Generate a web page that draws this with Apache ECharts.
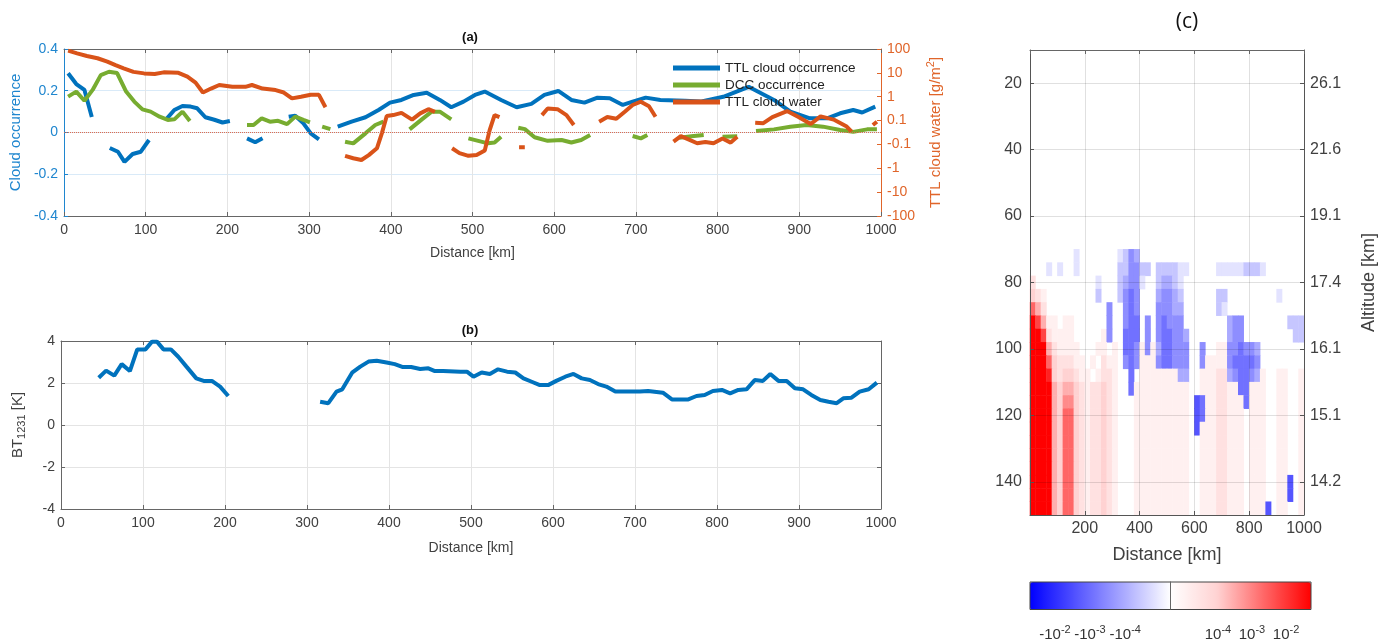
<!DOCTYPE html>
<html>
<head>
<meta charset="utf-8">
<script src="https://cdn.jsdelivr.net/npm/echarts@6/dist/echarts.min.js"></script>
<style>
  html, body { margin: 0; background: #fff; }
  #chart { width: 1379px; height: 642px; }
</style>
</head>
<body>
<div id="chart"></div>
<script>
// ---------- panel (a) : gaps in a trace are null ----------
const ttlOccKm = [5, 15, 25, 34, null, 56, 66, 74, 84, 94, 104, null,
  125, 135, 145, 155, 163, 173, 184, 194, 203, null, 224, 234, 243, null,
  275, 283, 293, 302, 312, null,
  335, 352, 369, 385, 399, 413, 428, 444, 460, 474, 489, 503, 515, 535, 554, 572, 588, 605,
  621, 637, 653, 668, 684, 696, 712, 730, 760, 779, 807, 838, 869, 889, 913, 934, 950, 966, 977, 993]
const ttlOcc = [0.284, 0.232, 0.204, 0.074, null, -0.074, -0.092, -0.141, -0.103, -0.092, -0.036, null,
  0.063, 0.108, 0.127, 0.124, 0.116, 0.073, 0.061, 0.048, 0.055, null, -0.028, -0.047, -0.028, null,
  0.075, 0.08, 0.044, -0.004, -0.033, null,
  0.028, 0.052, 0.073, 0.108, 0.143, 0.156, 0.18, 0.19, 0.156, 0.121, 0.148, 0.18, 0.196, 0.156, 0.121, 0.137, 0.18, 0.199,
  0.156, 0.143, 0.167, 0.164, 0.132, 0.148, 0.167, 0.156, 0.152, 0.148, 0.171, 0.219, 0.156, 0.1, 0.068, 0.068, 0.092, 0.108, 0.096, 0.124]

const dccOccKm = [5, 15, 25, 35, 45, 55, 65, 76, 86, 96, 106, 117, 127, 135, 145, 154, null,
  224, 232, 242, 252, 262, 273, 283, 293, 301, null, 316, 326, null,
  344, 354, 369, 381, 391, null, 423, 438, 450, 460, 474, null,
  495, 507, 519, 527, 535, null, 556, 564, 576, 592, 609, 621, 633, 644, null,
  696, 706, 714, null, 753, 768, 783, null, 806, 824, null,
  847, 869, 889, 909, 929, 950, 966, 983, 995]
const dccOcc = [0.172, 0.196, 0.152, 0.204, 0.275, 0.291, 0.285, 0.196, 0.148, 0.111, 0.1, 0.076, 0.06, 0.063, 0.1, 0.055, null,
  0.036, 0.036, 0.068, 0.052, 0.056, 0.04, 0.076, 0.06, 0.048, null, 0.028, 0.016, null,
  -0.044, -0.052, -0.004, 0.036, 0.052, null, 0.015, 0.063, 0.1, 0.1, 0.063, null,
  -0.028, -0.04, -0.052, -0.048, -0.02, null, 0.023, 0.016, -0.023, -0.04, -0.036, -0.048, -0.036, -0.012, null,
  -0.017, -0.028, -0.012, null, -0.025, -0.018, -0.012, null, -0.02, -0.018, null,
  0.007, 0.015, 0.028, 0.036, 0.028, 0.012, 0.003, 0.015, 0.015]

// TTL cloud water in g/m^2 (drawn on a symmetric log axis)
const ttlWaterKm = [5, 16, 28, 41, 53, 63, 73, 85, 98, 111, 122, 140, 151, 161, 170, 180, 190, 206, 222, 230,
  243, 259, 269, 279, 290, 302, 312, 320, null,
  344, 354, 364, 373, 383, 389, 395, 403, 413, 426, 436, 446, 454, null,
  475, 484, 495, 505, 515, 521, 527, 533, null, 557, 564, null,
  585, 592, 604, 615, 624, null, 655, 665, 676, 686, 696, 706, 716, 724, null,
  746, 755, 765, 775, 785, 795, 806, 816, 824, null,
  846, 856, 867, 885, 899, 914, 926, 942, 958, 964, null, 990, 995]
const ttlWater = [85, 66, 51, 41, 29.5, 21, 15.5, 11, 9.5, 9, 10.5, 10, 6.9, 3.9, 1.5, 2.2, 3.1, 2.6, 2.6, 3.1,
  2.2, 1.9, 1.5, 0.85, 1.0, 1.2, 1.2, 0.36, null,
  -0.3, -0.38, -0.45, -0.28, -0.145, -0.007, 0.155, 0.17, 0.21, 0.11, 0.2, 0.3, 0.23, null,
  -0.145, -0.23, -0.3, -0.28, -0.18, 0.02, 0.17, 0.14, null, -0.13, -0.13, null,
  0.17, 0.32, 0.3, 0.17, 0.063, null, 0.09, 0.14, 0.12, 0.23, 0.45, 0.62, 0.4, 0.145, null,
  -0.077, -0.03, -0.06, -0.09, -0.08, -0.09, -0.05, -0.085, -0.035, null,
  0.082, 0.078, 0.14, 0.25, 0.14, 0.071, 0.15, 0.11, 0.05, 0.007, null, 0.063, 0.09]

const waterTicks = [-3.5, -2.5, -1.5, -0.5, 0.5, 1.5, 2.5, 3.5]
const waterTickLabels = ['-100', '-10', '-1', '-0.1', '0.1', '1', '10', '100']

// ---------- panel (b) ----------
const btKm = [46, 55, 65, 74, 84, 93, 103, 111, 117, 125, 134, 143, 153, 165, 174, 184, 194, 204, null,
  316, 326, 336, 343, 355, 365, 375, 385, 397, 407, 417, 427, 438, 448, 456, 466, 487, 495, 503, 513, 523, 533,
  544, 554, 564, 574, 584, 594, 604, 615, 625, 635, 645, 655, 665, 676, 686, 706, 716, 734, 745, 755, 765,
  775, 785, 795, 806, 816, 826, 836, 846, 856, 865, 875, 885, 895, 905, 915, 926, 936, 946, 954, 964, 974, 985, 995]
const bt1231 = [2.25, 2.59, 2.35, 2.9, 2.57, 3.6, 3.6, 3.97, 3.97, 3.6, 3.6, 3.25, 2.78, 2.22, 2.1, 2.1, 1.83, 1.38, null,
  1.11, 1.04, 1.59, 1.7, 2.49, 2.78, 3.02, 3.06, 2.98, 2.9, 2.76, 2.76, 2.67, 2.7, 2.57, 2.57, 2.54, 2.54, 2.3, 2.5, 2.43, 2.65,
  2.54, 2.5, 2.22, 2.06, 1.9, 1.9, 2.1, 2.3, 2.43, 2.22, 2.14, 1.95, 1.83, 1.59, 1.59, 1.59, 1.62, 1.54, 1.22, 1.22, 1.22,
  1.38, 1.43, 1.62, 1.67, 1.51, 1.67, 1.7, 2.14, 2.1, 2.43, 2.1, 2.1, 1.75, 1.7, 1.43, 1.19, 1.11, 1.04, 1.27, 1.3, 1.59, 1.7, 2.02]

// ---------- panel (c) : 20 km columns x 4-level rows ----------
// '.' = 0, '1'..'9' = positive level, 'a'..'i' = negative level 1..9
const heatColKm = [10, 30, 50, 70, 90, 110, 130, 150, 170, 190, 210, 230, 250, 270, 290, 310, 330, 350, 370, 390,
  410, 430, 450, 470, 490, 510, 530, 550, 570, 590, 610, 630, 650, 670, 690, 710, 730, 750, 770, 790,
  810, 830, 850, 870, 890, 910, 930, 950, 970, 990]
const heatRowLevel = [12, 16, 20, 24, 28, 32, 36, 40, 44, 48, 52, 56, 60, 64, 68, 72, 76, 80, 84, 88,
  92, 96, 100, 104, 108, 112, 116, 120, 124, 128, 132, 136, 140, 144, 148]
const heatRows = [
  '.......... .......... .......... .......... ..........',
  '.......... .......... .......... .......... ..........',
  '.......... .......... .......... .......... ..........',
  '.......... .......... .......... .......... ..........',
  '.......... .......... .......... .......... ..........',
  '.......... .......... .......... .......... ..........',
  '.......... .......... .......... .......... ..........',
  '.......... .......... .......... .......... ..........',
  '.......... .......... .......... .......... ..........',
  '.......... .......... .......... .......... ..........',
  '.......... .......... .......... .......... ..........',
  '.......... .......... .......... .......... ..........',
  '.......... .......... .......... .......... ..........',
  '.......... .......... .......... .......... ..........',
  '.......... .......... .......... .......... ..........',
  '........a. ......abdc .......... .......... ..........',
  '...a.a..a. ......bbdd bb.bbbbaa. ....aaaaab bba.......',
  '2......... ..a...bcdd a..bccba.. .......... ..........',
  '321....... ..b...bded ...cddcb.. ....bb.... .....a....',
  '642....... ....d..ded ...dddcc.. ....ba.... ..........',
  '97411.11.. ....d..dee .d.deddd.. ......cdd. .......bbb',
  '99721111.. ...1d..eee .d.deeddc. ......cdd. ........bb',
  '999421111. ..11.1.eed 1d1ceeddd. .d..11dded dc........',
  '9996322211 .1.211.ded 111deeddd. .d1111deee ed........',
  '9998323321 1.1221..e. 1111111cc. .11122cdee dc1..11..1',
  '9999434432 122321..e1 111111111. .1112211ee 111..11..1',
  '9999435532 122321...1 111111111. fe1122111e 111..11..1',
  '9999436632 122321...1 111111111. fe1122111. 111..11..1',
  '9999436632 122321...1 111111111. f11122111. 111..11..1',
  '9999436632 122321...1 111111111. .11122111. 111..11..1',
  '9999436632 122321...1 111111111. .11122111. 111..11..1',
  '9999436632 122321...1 111111111. .11122111. 111..11..1',
  '9999436632 122321...1 111111111. .11122111. 111..11f.1',
  '9999436632 122321...1 111111111. .11122111. 111..11f.1',
  '9999436632 122321...1 111111111. .11122111. 111f.11..1'
]
const rowTicks = [20, 40, 60, 80, 100, 120, 140]
const altitudeTicks = ['26.1', '21.6', '19.1', '17.4', '16.1', '15.1', '14.2']
const cbarTicks = [-7.4, -5.16, -2.9, 3.04, 5.22, 7.4]
const cbarLabels = [['-10', '-2'], ['-10', '-3'], ['-10', '-4'], ['10', '-4'], ['10', '-3'], ['10', '-2']]

// ---------- helpers ----------
const toPairs = (xs, ys) => xs.map((x, i) => [x, ys[i]])
const symlog = v => {
  if (v === null) return null
  const a = Math.abs(v)
  return a < 0.1 ? v * 5 : Math.sign(v) * (Math.log10(a) + 1.5)
}
const heatData = []
heatRows.forEach((row, j) => {
  row.replace(/ /g, '').split('').forEach((ch, i) => {
    if (ch === '.') return
    const v = ch >= '1' && ch <= '9' ? +ch : -(ch.charCodeAt(0) - 96)
    heatData.push([i, j, v])
  })
})

const BLUE = '#0072BD'
const BLUE_TXT = '#1f86cf'
const ORANGE = '#D95319'
const ORANGE_TXT = '#e0652a'
const GREEN = '#77AC30'
const GRAY = '#404040'
const FONT = 'Liberation Sans'

const chart = echarts.init(document.getElementById('chart'))

const boxAxis = (grid, pos, extra) => Object.assign({
  gridIndex: grid, position: pos, type: 'value',
  axisLine: { onZero: false, lineStyle: { color: '#666' } },
  axisTick: { inside: true, length: 4, lineStyle: { color: '#666' } },
  axisLabel: { show: false }, splitLine: { show: false }
}, extra)

const option = {
  animation: false,
  textStyle: { fontFamily: FONT },
  grid: [
    { left: 61, top: 49, width: 820, height: 167 },
    { left: 61, top: 341, width: 820, height: 168 },
    { left: 1030, top: 50, width: 281, height: 465 },
    { left: 1030, top: 582, width: 281, height: 28, show: true, z: 10,
      borderColor: '#444', borderWidth: 1, backgroundColor: 'transparent' }
  ],
  legend: {
    data: ['TTL cloud occurrence', 'DCC occurrence', 'TTL cloud water'],
    orient: 'vertical', left: 673, top: 61, padding: 0,
    icon: 'rect', itemWidth: 47, itemHeight: 5, itemGap: 3,
    textStyle: { fontSize: 13.5, lineHeight: 14, color: '#222', fontFamily: FONT }
  },
  visualMap: {
    type: 'continuous', seriesIndex: 4, min: -9, max: 9,
    calculable: false, orient: 'horizontal', left: 1030, top: 582,
    itemWidth: 28, itemHeight: 281, padding: 0, text: null, hoverLink: false,
    inRange: { color: ['#0000ff', '#5555ff', '#aaaaff', '#ffffff', '#ffd2d2', '#ff6666', '#ff0000'] }
  },
  graphic: [
    { type: 'text', x: 470, y: 37, style: { text: '(a)', font: 'bold 13px ' + FONT, fill: '#111', textAlign: 'center', textVerticalAlign: 'middle', align: 'center', verticalAlign: 'middle' } },
    { type: 'text', x: 470, y: 330, style: { text: '(b)', font: 'bold 13px ' + FONT, fill: '#111', textAlign: 'center', textVerticalAlign: 'middle', align: 'center', verticalAlign: 'middle' } },
    { type: 'text', x: 1187, y: 22, style: { text: '(c)', font: '21px Open Sans', fill: '#111', textAlign: 'center', textVerticalAlign: 'middle', align: 'center', verticalAlign: 'middle' } }
  ],
  xAxis: [
    { gridIndex: 0, type: 'value', min: 0, max: 1000, interval: 100,
      name: 'Distance [km]', nameLocation: 'middle', nameGap: 30,
      nameTextStyle: { color: GRAY, fontSize: 14 },
      axisLine: { onZero: false, lineStyle: { color: '#666' } },
      axisTick: { inside: true, length: 4, lineStyle: { color: '#666' } },
      axisLabel: { color: GRAY, fontSize: 14, margin: 7, formatter: v => String(v) },
      splitLine: { lineStyle: { color: '#e4e4e4' } } },
    boxAxis(0, 'top', { min: 0, max: 1000, interval: 100 }),
    { gridIndex: 1, type: 'value', min: 0, max: 1000, interval: 100,
      name: 'Distance [km]', nameLocation: 'middle', nameGap: 32,
      nameTextStyle: { color: GRAY, fontSize: 14 },
      axisLine: { onZero: false, lineStyle: { color: '#666' } },
      axisTick: { inside: true, length: 4, lineStyle: { color: '#666' } },
      axisLabel: { color: GRAY, fontSize: 14, margin: 7, formatter: v => String(v) },
      splitLine: { lineStyle: { color: '#e4e4e4' } } },
    boxAxis(1, 'top', { min: 0, max: 1000, interval: 100 }),
    { gridIndex: 2, type: 'value', min: 0, max: 1000, interval: 200, z: 5,
      name: 'Distance [km]', nameLocation: 'middle', nameGap: 31,
      nameTextStyle: { color: GRAY, fontSize: 18 },
      axisLine: { onZero: false, lineStyle: { color: '#555' } },
      axisTick: { inside: true, length: 4, lineStyle: { color: '#555' } },
      axisLabel: { color: GRAY, fontSize: 16, margin: 6, formatter: v => (v === 0 ? '' : String(v)) },
      splitLine: { lineStyle: { color: 'rgba(0,0,0,0.12)' } } },
    boxAxis(2, 'top', { min: 0, max: 1000, interval: 200, z: 5 }),
    { gridIndex: 2, type: 'category', data: heatColKm, show: false },
    { gridIndex: 3, type: 'value', min: -9, max: 9, z: 11,
      axisLine: { show: false },
      axisTick: { inside: true, length: 28, customValues: [0], lineStyle: { color: '#666' } },
      axisLabel: {
        customValues: cbarTicks, margin: 15, color: '#333',
        formatter: v => {
          const i = cbarTicks.findIndex(t => Math.abs(t - v) < 1e-6)
          return i < 0 ? '' : '{b|' + cbarLabels[i][0] + '}{s|' + cbarLabels[i][1] + '}'
        },
        rich: {
          b: { fontSize: 15, color: '#333', fontFamily: FONT },
          s: { fontSize: 11, color: '#333', fontFamily: FONT, padding: [0, 0, 9, 0] }
        }
      },
      splitLine: { show: false } }
  ],
  yAxis: [
    { gridIndex: 0, type: 'value', min: -0.4, max: 0.4, interval: 0.2,
      name: 'Cloud occurrence', nameLocation: 'middle', nameGap: 41,
      nameTextStyle: { color: BLUE_TXT, fontSize: 15 },
      axisLine: { show: true, onZero: false, lineStyle: { color: BLUE_TXT } },
      axisTick: { show: true, inside: true, length: 4, lineStyle: { color: BLUE_TXT } },
      axisLabel: { color: BLUE_TXT, fontSize: 14, margin: 6, formatter: v => String(+v.toFixed(1)) },
      splitLine: { lineStyle: { color: '#d9eaf8' } } },
    { gridIndex: 0, type: 'value', position: 'right', min: -3.5, max: 3.5,
      name: '{n|TTL cloud water [g/m}{s|2}{n|]}', nameLocation: 'middle', nameGap: 44,
      nameTextStyle: { rich: {
        n: { color: ORANGE_TXT, fontSize: 15, fontFamily: FONT },
        s: { color: ORANGE_TXT, fontSize: 11, fontFamily: FONT, padding: [0, 0, 8, 0] } } },
      axisLine: { show: true, onZero: false, lineStyle: { color: ORANGE_TXT } },
      axisTick: { show: true, inside: true, length: 4, customValues: waterTicks, lineStyle: { color: ORANGE_TXT } },
      axisLabel: { color: ORANGE_TXT, fontSize: 14, margin: 6, customValues: waterTicks,
        formatter: v => { const i = waterTicks.findIndex(t => Math.abs(t - v) < 1e-6); return i < 0 ? '' : waterTickLabels[i] } },
      splitLine: { show: false } },
    { gridIndex: 1, type: 'value', min: -4, max: 4, interval: 2,
      name: '{n|BT}{sub|1231}{n| [K]}', nameLocation: 'middle', nameGap: 34,
      nameTextStyle: { rich: {
        n: { color: GRAY, fontSize: 15, fontFamily: FONT },
        sub: { color: GRAY, fontSize: 11, fontFamily: FONT, padding: [8, 0, 0, 0] } } },
      axisLine: { show: true, onZero: false, lineStyle: { color: '#666' } },
      axisTick: { show: true, inside: true, length: 4, lineStyle: { color: '#666' } },
      axisLabel: { color: GRAY, fontSize: 14, margin: 6 },
      splitLine: { lineStyle: { color: '#e4e4e4' } } },
    boxAxis(1, 'right', { min: -4, max: 4, interval: 2, axisLine: { show: true, onZero: false, lineStyle: { color: '#666' } } }),
    { gridIndex: 2, type: 'value', min: 10, max: 150, splitNumber: 7, inverse: true, z: 5,
      axisLine: { show: true, onZero: false, lineStyle: { color: '#555' } },
      axisTick: { show: true, inside: true, length: 4, customValues: rowTicks, lineStyle: { color: '#555' } },
      axisLabel: { color: GRAY, fontSize: 16, margin: 8, customValues: rowTicks },
      splitLine: { lineStyle: { color: 'rgba(0,0,0,0.12)' } } },
    { gridIndex: 2, type: 'value', position: 'right', min: 10, max: 150, splitNumber: 7, inverse: true, z: 5,
      name: 'Altitude [km]', nameLocation: 'middle', nameGap: 56, nameRotate: 90,
      nameTextStyle: { color: GRAY, fontSize: 18, padding: [0, 0, 0, 0] },
      axisLine: { show: true, onZero: false, lineStyle: { color: '#555' } },
      axisTick: { show: true, inside: true, length: 4, customValues: rowTicks, lineStyle: { color: '#555' } },
      axisLabel: { color: GRAY, fontSize: 16, margin: 6, customValues: rowTicks,
        formatter: v => { const i = rowTicks.indexOf(v); return i < 0 ? '' : altitudeTicks[i] } },
      splitLine: { show: false } },
    { gridIndex: 2, type: 'category', data: heatRowLevel, inverse: true, show: false },
    { gridIndex: 3, type: 'value', show: false, min: 0, max: 1 }
  ],
  series: [
    { name: 'TTL cloud occurrence', type: 'line', xAxisIndex: 0, yAxisIndex: 0,
      data: toPairs(ttlOccKm, ttlOcc), symbol: 'none', lineStyle: { color: BLUE, width: 4 }, itemStyle: { color: BLUE },
      markLine: { silent: true, symbol: 'none', label: { show: false },
        lineStyle: { color: '#e06a4a', type: 'dotted', width: 1 }, data: [{ yAxis: 0 }] } },
    { name: 'DCC occurrence', type: 'line', xAxisIndex: 0, yAxisIndex: 0,
      data: toPairs(dccOccKm, dccOcc), symbol: 'none', lineStyle: { color: GREEN, width: 4 }, itemStyle: { color: GREEN } },
    { name: 'TTL cloud water', type: 'line', xAxisIndex: 0, yAxisIndex: 1,
      data: toPairs(ttlWaterKm, ttlWater.map(symlog)), symbol: 'none', lineStyle: { color: ORANGE, width: 4 }, itemStyle: { color: ORANGE } },
    { name: 'BT1231', type: 'line', xAxisIndex: 2, yAxisIndex: 2,
      data: toPairs(btKm, bt1231), symbol: 'none', lineStyle: { color: BLUE, width: 4 } },
    { name: 'heat', type: 'heatmap', xAxisIndex: 6, yAxisIndex: 6, data: heatData,
      emphasis: { disabled: true }, progressive: 0 }
  ]
}

chart.setOption(option)
</script>
</body>
</html>
